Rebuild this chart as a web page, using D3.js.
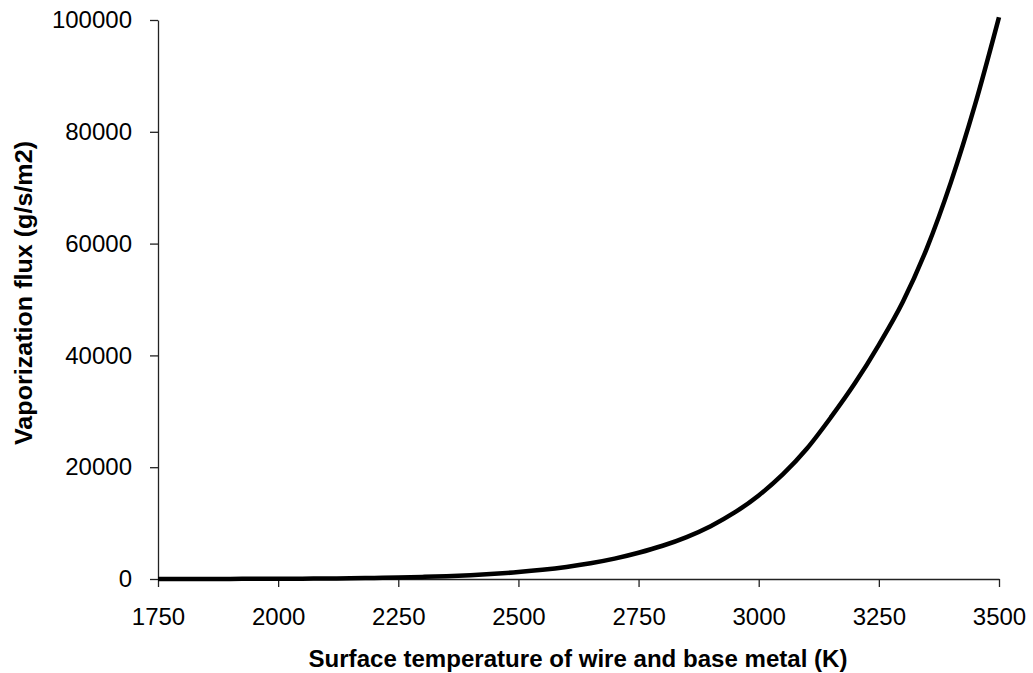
<!DOCTYPE html>
<html lang="en">
<head>
<meta charset="utf-8">
<title>Vaporization flux</title>
<script src="https://d3js.org/d3.v7.min.js"></script>
<style>
  body { margin: 0; background: #fff; }
  svg { display: block; font-family: "Liberation Sans", Arial, sans-serif; }
  .axis path, .axis line { stroke: #222; stroke-width: 1.3; }
  .axis text { font-size: 24px; fill: #000; }
  .title { font-size: 23px; font-weight: bold; fill: #000; }
</style>
</head>
<body>
<script>
// surface temperature (K) and vaporization flux (g/s/m2)
var temps = [1750, 1800, 1850, 1900, 1950, 2000, 2050, 2100, 2150, 2200,
             2250, 2300, 2350, 2400, 2450, 2500, 2550, 2600, 2650, 2700,
             2750, 2800, 2850, 2900, 2950, 3000, 3050, 3100, 3150, 3200,
             3250, 3300, 3350, 3400, 3450, 3500];
var flux = [5, 8, 13, 20, 30, 45, 65, 95, 135, 190,
            265, 370, 510, 690, 930, 1240, 1640, 2160, 2820, 3650,
            4700, 5950, 7500, 9450, 11900, 14950, 18700, 23300, 28900, 35000,
            41900, 49600, 59200, 71000, 84800, 100500];
var xTicks = [1750, 2000, 2250, 2500, 2750, 3000, 3250, 3500];
var yTicks = [0, 20000, 40000, 60000, 80000, 100000];

var width = 1033, height = 673;
var plotLeft = 158, plotRight = 999, plotTop = 20, plotBottom = 579;

var svg = d3.select("body").append("svg")
    .attr("width", width)
    .attr("height", height);

var x = d3.scaleLinear().domain([1750, 3500]).range([plotLeft, plotRight]);
var y = d3.scaleLinear().domain([0, 100000]).range([plotBottom, plotTop]);

svg.append("g")
    .attr("class", "axis")
    .attr("transform", "translate(0," + plotBottom + ")")
    .call(d3.axisBottom(x).tickValues(xTicks).tickSize(8).tickSizeOuter(0)
        .tickPadding(21).tickFormat(d3.format("d")));

svg.append("g")
    .attr("class", "axis")
    .attr("transform", "translate(" + plotLeft + ",0)")
    .call(d3.axisLeft(y).tickValues(yTicks).tickSize(8).tickSizeOuter(0)
        .tickPadding(18).tickFormat(d3.format("d")));

svg.selectAll(".axis").attr("font-family", null).attr("font-size", null);

var pts = temps.map(function(t, i) { return [t, flux[i]]; });

var line = d3.line()
    .x(function(d) { return x(d[0]); })
    .y(function(d) { return y(d[1]); })
    .curve(d3.curveMonotoneX);

svg.append("path")
    .datum(pts)
    .attr("fill", "none")
    .attr("stroke", "#000")
    .attr("stroke-width", 4.5)
    .attr("d", line);

svg.append("text")
    .attr("class", "title")
    .attr("x", 578)
    .attr("y", 667)
    .attr("text-anchor", "middle")
    .attr("textLength", 539)
    .attr("lengthAdjust", "spacingAndGlyphs")
    .text("Surface temperature of wire and base metal (K)");

svg.append("text")
    .attr("class", "title")
    .attr("transform", "translate(32,293) rotate(-90)")
    .attr("text-anchor", "middle")
    .attr("textLength", 304)
    .attr("lengthAdjust", "spacingAndGlyphs")
    .text("Vaporization flux (g/s/m2)");
</script>
</body>
</html>
